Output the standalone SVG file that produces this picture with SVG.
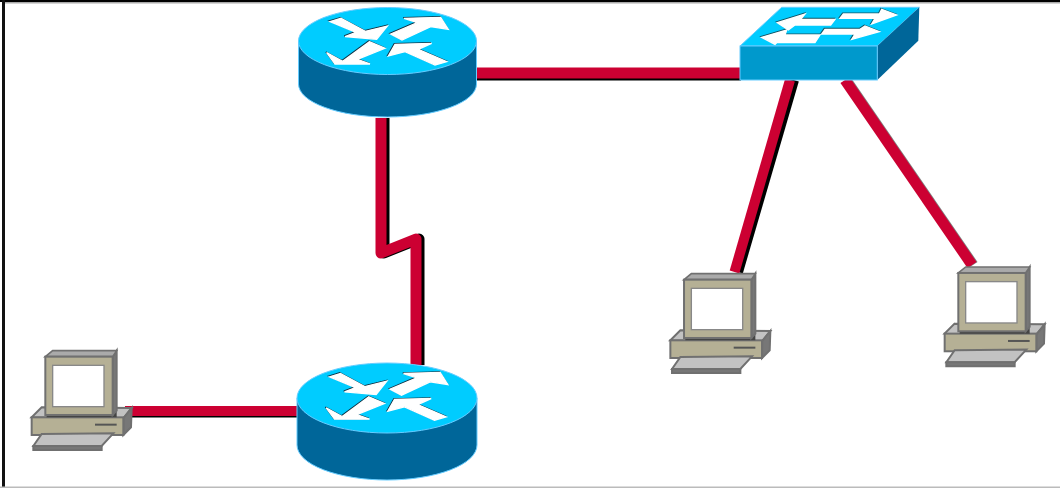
<svg xmlns="http://www.w3.org/2000/svg" width="1060" height="488" viewBox="0 0 1060 488">
<style>
.red{fill:none;stroke:#cc0033;stroke-linejoin:round}
.blk{fill:none;stroke:#000;stroke-linejoin:round}
.rtop{fill:#00ccff;stroke:#66ccff;stroke-width:1}
.rbody{fill:#006699;stroke:#66ccff;stroke-width:1}
.arrow{fill:#fff;stroke:#fff;stroke-width:4}
.ash{fill:#113344;stroke:#113344;stroke-width:4}
.beige{fill:#b5b095;stroke:#707070;stroke-width:6}
.lite{fill:#c2c2c2;stroke:#707070;stroke-width:6}
.dark{fill:#777;stroke:#707070;stroke-width:6}
</style>
<defs>
<filter id="soft" x="-5%" y="-5%" width="110%" height="110%"><feGaussianBlur stdDeviation="0.6"/></filter>
<g id="rarrows">
<polygon id="ra1" points="150,65 183,55 256,94 322,78 290,118 195,110 228,97"/>
<polygon id="ra2" points="332,102 412,68 372,55 482,52 505,88 452,80 366,120"/>
<polygon id="ra3" points="268,125 315,145 232,178 270,192 165,192 140,158 188,184"/>
<polygon id="ra4" points="325,168 345,133 455,130 415,148 500,185 465,195 375,155"/>
</g>
<g id="pc">
<polygon class="lite" points="65,202 335,204 310,235 35,232"/>
<polygon class="dark" points="310,235 335,204 333,262 310,285"/>
<rect class="beige" x="35" y="232" width="275" height="53"/>
<line x1="225" y1="254" x2="290" y2="254" stroke="#555" stroke-width="6"/>
<polygon class="lite" points="65,282 280,280 245,318 40,318"/>
<polygon class="dark" points="40,318 245,318 245,330 40,330"/>
<polygon fill="#444" points="80,225 278,225 290,212 290,232 80,232"/>
<polygon class="dark" points="278,50 290,32 290,212 278,225"/>
<polygon fill="#aaa" stroke="#707070" stroke-width="5" points="76,50 98,32 290,32 278,50"/>
<rect class="beige" x="76" y="50" width="202" height="175"/>
<rect x="98" y="76" width="154" height="124" fill="#fff" stroke="#888" stroke-width="4"/>
</g>
</defs>
<rect width="1060" height="488" fill="#fff"/>
<rect x="0" y="0" width="1060" height="2" fill="#000"/>
<rect x="2" y="0" width="3" height="488" fill="#111"/>
<rect x="5" y="2" width="1055" height="1.5" fill="#aaa"/>
<rect x="0" y="486.500" width="1060" height="1.500" fill="#bbb"/>

<g id="connectors" filter="url(#soft)">
<line class="blk" x1="477" y1="75" x2="741" y2="75" stroke-width="11"/>
<line class="red" x1="477" y1="73" x2="741" y2="73" stroke-width="11"/>
<path class="blk" d="M384 118V253L419 239V365" stroke-width="11"/>
<path class="red" d="M381 118V253L416 239V365" stroke-width="11"/>
<line class="blk" x1="125" y1="412.500" x2="298" y2="412.500" stroke-width="10"/>
<line class="red" x1="125" y1="411" x2="298" y2="411" stroke-width="10"/>
<line class="blk" x1="794" y1="80" x2="738" y2="272" stroke-width="10"/>
<line class="red" x1="790" y1="80" x2="734.500" y2="272" stroke-width="10"/>
<line class="blk" x1="846" y1="80" x2="973" y2="265" stroke-width="11" opacity=".5"/>
<line class="red" x1="845" y1="80" x2="972" y2="265" stroke-width="11"/>
</g>

<g id="router1" filter="url(#soft)">
<path class="rbody" d="M298.500 41V84A89 33 0 0 0 476.500 84V41Z"/>
<ellipse class="rtop" cx="387.500" cy="41" rx="89" ry="33.500"/>
<use href="#rarrows" class="ash" transform="translate(279.300,-0.700) scale(.3333)"/>
<use href="#rarrows" class="arrow" transform="translate(280,0) scale(.3333)"/>
</g>

<g id="router2" filter="url(#soft)">
<path class="rbody" d="M297 398V445A90 35 0 0 0 477 445V398Z"/>
<ellipse class="rtop" cx="387" cy="398" rx="90" ry="35"/>
<use href="#rarrows" class="ash" transform="translate(278.800,354.500) scale(.3333)"/>
<use href="#rarrows" class="arrow" transform="translate(279.500,355.200) scale(.3333)"/>
</g>

<g id="switch" filter="url(#soft)" stroke="#66ccff" stroke-width="1">
<polygon fill="#00ccff" points="740,46 781.700,7.300 919.300,7.300 877.300,46"/>
<polygon fill="#006699" stroke="none" points="877.300,46 919.300,7.300 918.300,40.700 877.300,80"/>
<rect x="740" y="46" width="137.300" height="34" fill="#0099cc"/>
<g stroke="none">
<g fill="#115566" stroke="#115566" stroke-width="4" transform="translate(729.300,-0.800) scale(.3333)">
<polygon points="142,68 225,42 212,58 315,58 302,75 195,75 175,90"/>
<polygon points="340,42 448,42 455,28 500,45 425,72 435,55 330,55"/>
<polygon points="95,112 170,90 165,105 270,105 255,128 140,128 135,133"/>
<polygon points="285,88 390,88 405,78 448,95 365,118 375,102 275,102"/>
</g>
<g fill="#fff" stroke="#fff" stroke-width="4" transform="translate(730,0) scale(.3333)">
<polygon points="142,68 225,42 212,58 315,58 302,75 195,75 175,90"/>
<polygon points="340,42 448,42 455,28 500,45 425,72 435,55 330,55"/>
<polygon points="95,112 170,90 165,105 270,105 255,128 140,128 135,133"/>
<polygon points="285,88 390,88 405,78 448,95 365,118 375,102 275,102"/>
</g>
</g>
</g>

<g id="pc1" filter="url(#soft)"><use href="#pc" transform="translate(20,340) scale(.3333)"/></g>
<g id="pc2" filter="url(#soft)"><use href="#pc" transform="translate(658.700,263) scale(.3333)"/></g>
<g id="pc3" filter="url(#soft)"><use href="#pc" transform="translate(933,256.300) scale(.3333)"/></g>
</svg>
